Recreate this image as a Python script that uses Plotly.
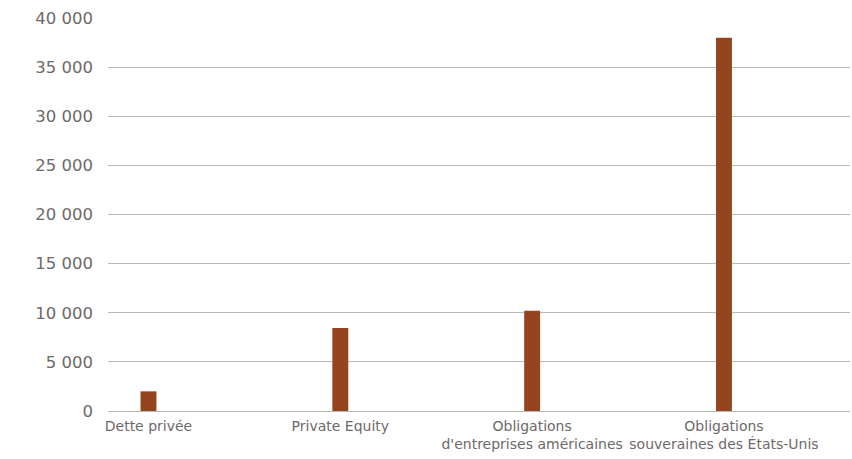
import plotly.graph_objects as go

# Encours par classe d'actifs
categories = [
    "Dette privée",
    "Private Equity",
    "Obligations<br>d'entreprises américaines",
    "Obligations<br>souveraines des États-Unis",
]
values = [2000, 8450, 10200, 38000]
y_ticks = [0, 5000, 10000, 15000, 20000, 25000, 30000, 35000, 40000]
y_tick_labels = ["0", "5 000", "10 000", "15 000", "20 000", "25 000", "30 000", "35 000", "40 000"]

BAR_COLOR = "#94451F"
TEXT_COLOR = "#6E6969"
GRID_COLOR = "#BDB8B8"
FONT = "DejaVu Sans"

fig = go.Figure(
    go.Bar(
        x=categories,
        y=values,
        marker=dict(color=BAR_COLOR, line=dict(width=0)),
        width=0.083,
        hoverinfo="x+y",
    )
)

fig.update_layout(
    width=852,
    height=459,
    margin=dict(l=108, r=2, t=18, b=48, autoexpand=False),
    paper_bgcolor="white",
    plot_bgcolor="white",
    showlegend=False,
    font=dict(family=FONT, color=TEXT_COLOR, size=15),
)

fig.update_xaxes(
    type="category",
    range=[-0.211, 3.657],
    automargin=False,
    tickangle=0,
    ticklabeloverflow="allow",
    showgrid=False,
    showline=False,
    zeroline=False,
    ticks="",
    ticklabelstandoff=5,
    tickfont=dict(family=FONT, size=14, color=TEXT_COLOR),
)

fig.update_yaxes(
    range=[0, 40000],
    automargin=False,
    tickvals=y_ticks,
    ticktext=y_tick_labels,
    showgrid=True,
    gridcolor=GRID_COLOR,
    gridwidth=1,
    zeroline=True,
    zerolinecolor=GRID_COLOR,
    zerolinewidth=1,
    showline=False,
    ticks="",
    ticklabelstandoff=14,
    tickfont=dict(family=FONT, size=16.5, color=TEXT_COLOR),
)

fig.write_html("out.html")
